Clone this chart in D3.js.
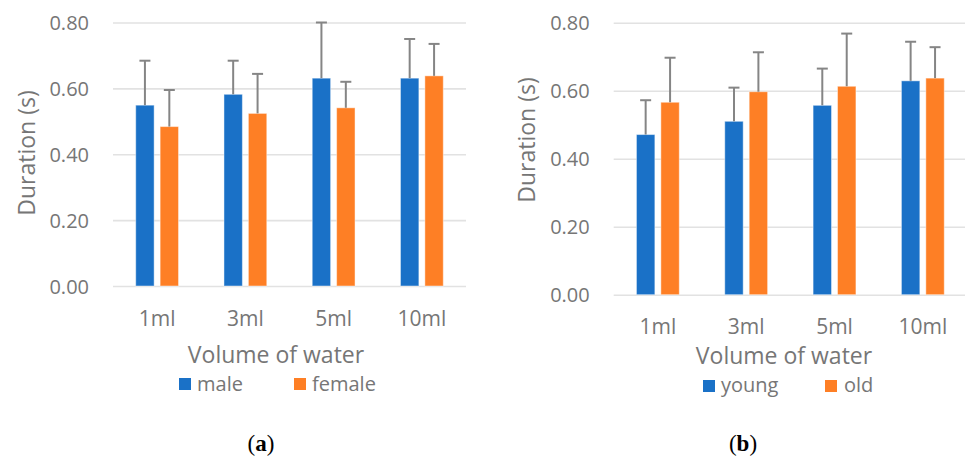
<!DOCTYPE html>
<html>
<head>
<meta charset="utf-8">
<script src="https://cdn.jsdelivr.net/npm/d3@7"></script>
<style>
  html, body { margin: 0; padding: 0; background: #fff; }
  svg { display: block; }
  text { font-family: "Open Sans", sans-serif; fill: #767676; }
</style>
</head>
<body>
<svg id="chart" width="965" height="459"></svg>
<script>
// ---- Data ----
const categories = ["1ml", "3ml", "5ml", "10ml"];
const yTicks = [0, 0.2, 0.4, 0.6, 0.8];

const maleMean   = [0.549, 0.582, 0.631, 0.631];
const maleErr    = [0.135, 0.102, 0.169, 0.119];
const femaleMean = [0.484, 0.524, 0.541, 0.638];
const femaleErr  = [0.111, 0.120, 0.079, 0.097];

const youngMean  = [0.471, 0.510, 0.557, 0.629];
const youngErr   = [0.101, 0.099, 0.108, 0.115];
const oldMean    = [0.566, 0.597, 0.613, 0.637];
const oldErr     = [0.131, 0.116, 0.155, 0.091];

const seriesA = ["male", "female"];
const seriesB = ["young", "old"];

const colors = ["#1a71c7", "#fe7f25"];

const svg = d3.select("#chart");

function panel(cfg) {
  const g = svg.append("g");
  const x = d3.scaleBand().domain(categories).range(cfg.xr)
    .paddingInner(0.515).paddingOuter(0.2575);
  const xs = d3.scaleBand().domain([0, 1]).range([0, x.bandwidth()])
    .paddingInner(0.246).paddingOuter(0);
  const y = d3.scaleLinear().domain([0, 0.8]).range(cfg.yr);

  // gridlines + y labels
  const ya = g.append("g").attr("transform", `translate(${cfg.xr[0]},0)`)
    .call(d3.axisLeft(y).tickValues(yTicks).tickFormat(d3.format(".2f"))
      .tickSize(-(Math.min(cfg.xr[1], 965) - cfg.xr[0])).tickPadding(24));
  ya.select(".domain").remove();
  ya.selectAll(".tick line").attr("stroke", "#e2e2e2").attr("stroke-width", 1.6);
  ya.selectAll(".tick text").attr("font-size", 20).attr("fill", "#767676")
    .attr("font-family", "Open Sans, sans-serif").attr("dy", "0.36em");

  const data = [];
  categories.forEach((c, i) => {
    cfg.means.forEach((m, s) => data.push({ c, s, v: m[i], e: cfg.errs[s][i] }));
  });

  // bars
  g.selectAll("rect.bar").data(data).enter().append("rect")
    .attr("class", "bar")
    .attr("x", d => x(d.c) + xs(d.s))
    .attr("width", xs.bandwidth())
    .attr("y", d => y(d.v))
    .attr("height", d => y(0) - y(d.v))
    .attr("fill", d => colors[d.s])
    .attr("stroke", "rgba(255,255,255,0.45)")
    .attr("stroke-width", 1);

  // error bars
  const eb = g.selectAll("g.err").data(data).enter().append("g").attr("class", "err");
  eb.append("line")
    .attr("x1", d => x(d.c) + xs(d.s) + xs.bandwidth() / 2)
    .attr("x2", d => x(d.c) + xs(d.s) + xs.bandwidth() / 2)
    .attr("y1", d => y(d.v))
    .attr("y2", d => y(d.v + d.e))
    .attr("stroke", "#858585").attr("stroke-width", 2);
  eb.append("line")
    .attr("x1", d => x(d.c) + xs(d.s) + xs.bandwidth() / 2 - 5.5)
    .attr("x2", d => x(d.c) + xs(d.s) + xs.bandwidth() / 2 + 5.5)
    .attr("y1", d => y(d.v + d.e))
    .attr("y2", d => y(d.v + d.e))
    .attr("stroke", "#858585").attr("stroke-width", 2);

  // x axis labels
  const xa = g.append("g").attr("transform", `translate(0,${cfg.yr[0]})`)
    .call(d3.axisBottom(x).tickSize(0));
  xa.select(".domain").remove();
  xa.selectAll(".tick text").attr("font-size", 21).attr("fill", "#767676")
    .attr("font-family", "Open Sans, sans-serif")
    .attr("dy", null).attr("y", 39.5);

  // y title
  g.append("text")
    .attr("transform", `translate(${cfg.ytX},${cfg.ytY}) rotate(-90)`)
    .attr("text-anchor", "middle").attr("font-size", 23)
    .text("Duration (s)");

  // x title
  g.append("text")
    .attr("x", cfg.xtX).attr("y", cfg.xtY)
    .attr("text-anchor", "middle").attr("font-size", 23)
    .text("Volume of water");

  // legend
  cfg.legend.forEach((L, s) => {
    g.append("rect").attr("x", L.sx).attr("y", L.sy).attr("width", 12).attr("height", 12)
      .attr("fill", colors[s]);
    g.append("text").attr("x", L.tx).attr("y", L.ty).attr("font-size", 20)
      .text(cfg.names[s]);
  });

  // caption
  const cap = g.append("text").attr("x", cfg.capX).attr("y", 451)
    .attr("text-anchor", "middle").attr("font-size", 23)
    .style("font-family", "'Liberation Serif', 'DejaVu Serif', serif").style("fill", "#000");
  cap.append("tspan").text("(");
  cap.append("tspan").attr("font-weight", "bold").text(cfg.capLetter);
  cap.append("tspan").text(")");
}

panel({
  xr: [113, 466], yr: [286, 22.5],
  means: [maleMean, femaleMean], errs: [maleErr, femaleErr], names: seriesA,
  ytX: 35, ytY: 153, xtX: 276, xtY: 363,
  legend: [{ sx: 179, sy: 378, tx: 197, ty: 391 }, { sx: 294, sy: 378, tx: 312, ty: 391 }],
  capX: 261, capLetter: "a"
});
panel({
  xr: [613.7, 967], yr: [294.7, 22.7],
  means: [youngMean, oldMean], errs: [youngErr, oldErr], names: seriesB,
  ytX: 535, ytY: 140, xtX: 784, xtY: 364,
  legend: [{ sx: 703, sy: 380, tx: 721, ty: 392 }, { sx: 825, sy: 380, tx: 844, ty: 392 }],
  capX: 743, capLetter: "b"
});
</script>
</body>
</html>
